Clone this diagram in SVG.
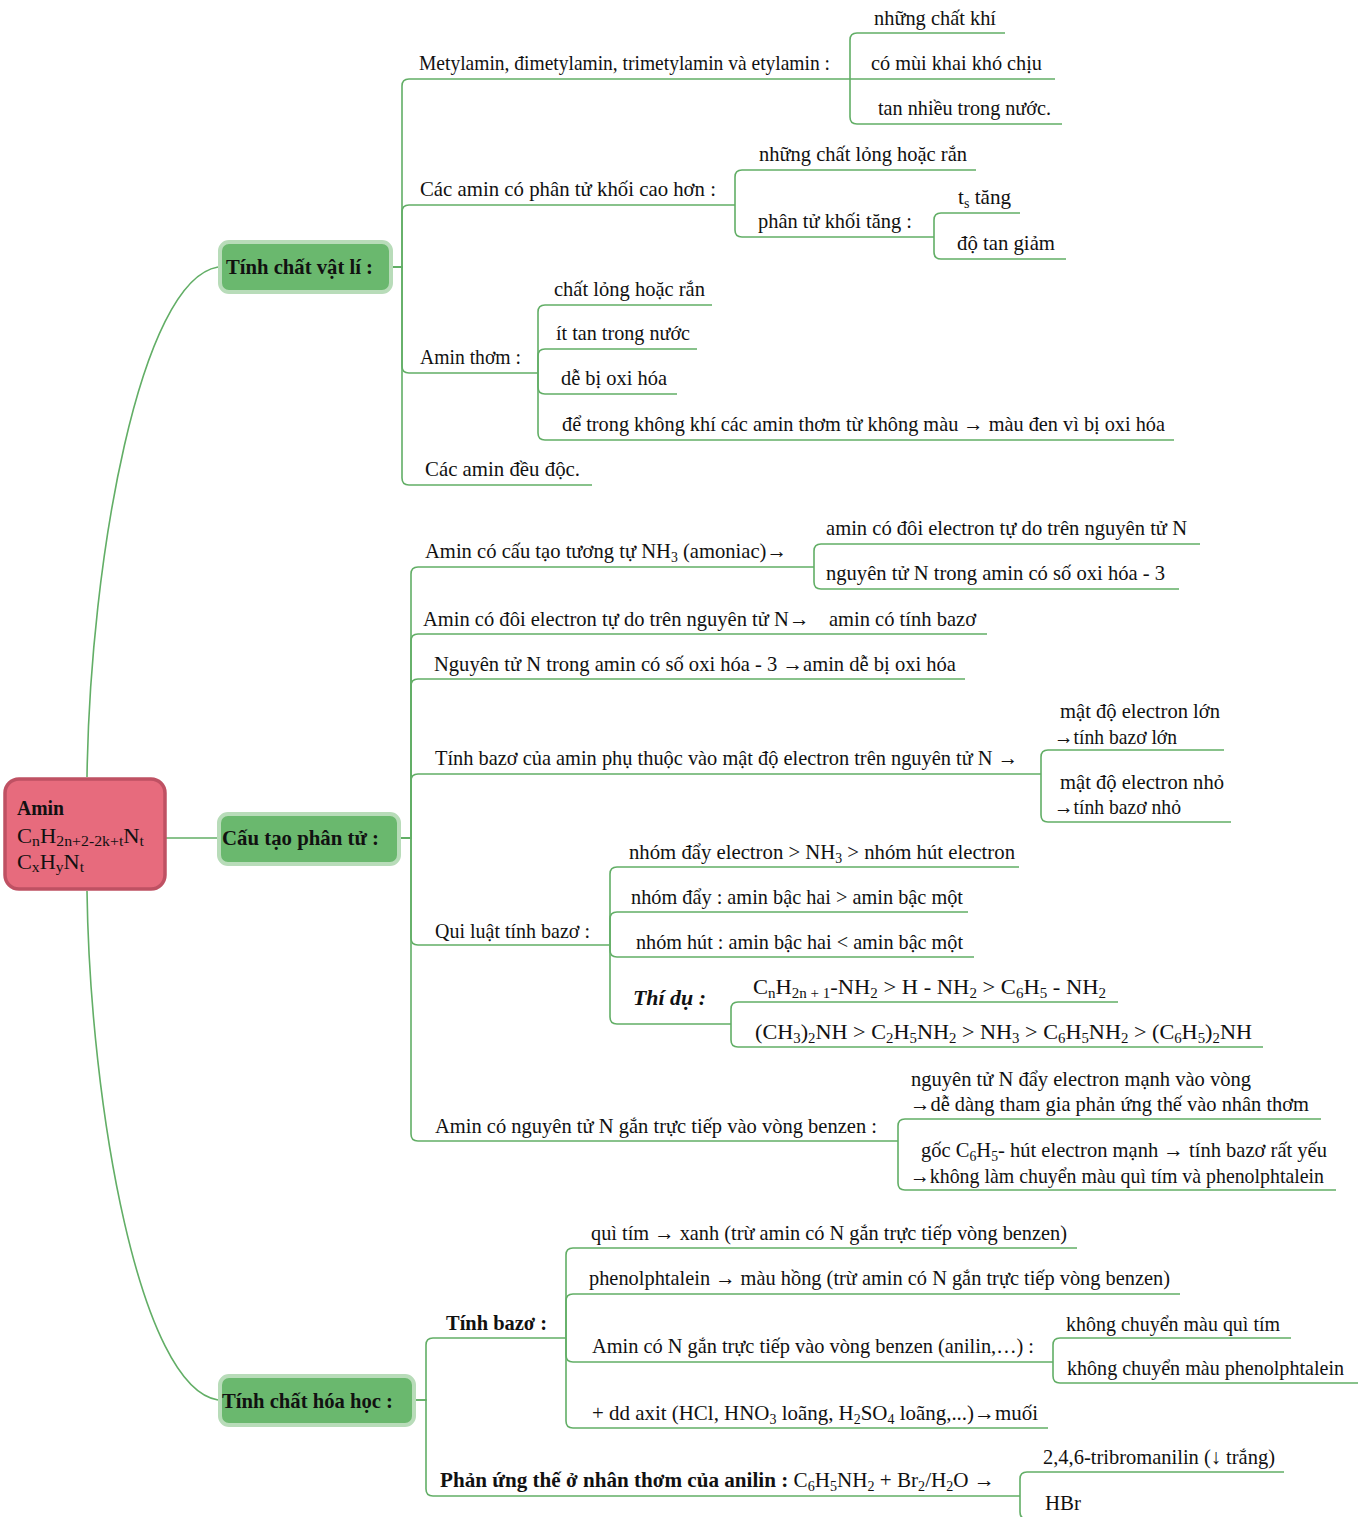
<svg xmlns="http://www.w3.org/2000/svg" width="1363" height="1517" viewBox="0 0 1363 1517">
<style>
text{font-family:"Liberation Serif","Times New Roman",serif;font-size:21px;fill:#111}
.b{font-weight:bold}
.bi{font-weight:bold;font-style:italic}
.sb{font-size:14px}
.rt{font-size:20px}
.rt .sb{font-size:14px}
.c{fill:none;stroke:#62ae66;stroke-width:1.6}
.nb{fill:#6ab86e;stroke:#b8dcb9;stroke-width:4}
.root{fill:#e76b7d;stroke:#bf5163;stroke-width:3.5}
</style>
<rect width="1363" height="1517" fill="#fff"/>
<g id="connectors">
<path class="c" d="M87,777 C90,560 140,280 218,267"/>
<path class="c" d="M166,838 H218"/>
<path class="c" d="M87,891 C90,1108 140,1388 218,1400"/>
<path class="c" d="M393,267 H402 V86 Q402,79 409,79 H850"/>
<path class="c" d="M393,267 H402 V212 Q402,205 409,205 H735"/>
<path class="c" d="M393,267 H402 V366 Q402,373 409,373 H538"/>
<path class="c" d="M393,267 H402 V478 Q402,485 409,485 H592"/>
<path class="c" d="M850,79 V40 Q850,33 857,33 H1005"/>
<path class="c" d="M850,79 H1055"/>
<path class="c" d="M850,79 V117 Q850,124 857,124 H1062"/>
<path class="c" d="M735,205 V177 Q735,170 742,170 H976"/>
<path class="c" d="M735,205 V230 Q735,237 742,237 H934"/>
<path class="c" d="M934,237 V220 Q934,213 941,213 H1020"/>
<path class="c" d="M934,237 V252 Q934,259 941,259 H1066"/>
<path class="c" d="M538,373 V312 Q538,305 545,305 H712"/>
<path class="c" d="M538,373 V356 Q538,349 545,349 H697"/>
<path class="c" d="M538,373 V387 Q538,394 545,394 H677"/>
<path class="c" d="M538,373 V433 Q538,440 545,440 H1174"/>
<path class="c" d="M401,838 H411 V574 Q411,567 418,567 H814"/>
<path class="c" d="M401,838 H411 V641 Q411,634 418,634 H987"/>
<path class="c" d="M401,838 H411 V686 Q411,679 418,679 H965"/>
<path class="c" d="M401,838 H411 V781 Q411,774 418,774 H1041"/>
<path class="c" d="M401,838 H411 V938 Q411,945 418,945 H610"/>
<path class="c" d="M401,838 H411 V1134 Q411,1141 418,1141 H898"/>
<path class="c" d="M814,567 V551 Q814,544 821,544 H1200"/>
<path class="c" d="M814,567 V582 Q814,589 821,589 H1179"/>
<path class="c" d="M1041,774 V757 Q1041,750 1048,750 H1224"/>
<path class="c" d="M1041,774 V815 Q1041,822 1048,822 H1231"/>
<path class="c" d="M610,945 V874 Q610,867 617,867 H1019"/>
<path class="c" d="M610,945 V919 Q610,912 617,912 H968"/>
<path class="c" d="M610,945 V950 Q610,957 617,957 H974"/>
<path class="c" d="M610,945 V1017 Q610,1024 617,1024 H731"/>
<path class="c" d="M731,1024 V1009 Q731,1002 738,1002 H1118"/>
<path class="c" d="M731,1024 V1040 Q731,1047 738,1047 H1263"/>
<path class="c" d="M898,1141 V1126 Q898,1119 905,1119 H1321"/>
<path class="c" d="M898,1141 V1183 Q898,1190 905,1190 H1336"/>
<path class="c" d="M416,1400 H426 V1345 Q426,1338 433,1338 H566"/>
<path class="c" d="M416,1400 H426 V1489 Q426,1496 433,1496 H1020"/>
<path class="c" d="M566,1338 V1255 Q566,1248 573,1248 H1077"/>
<path class="c" d="M566,1338 V1301 Q566,1294 573,1294 H1180"/>
<path class="c" d="M566,1338 V1355 Q566,1362 573,1362 H1053"/>
<path class="c" d="M566,1338 V1421 Q566,1428 573,1428 H1048"/>
<path class="c" d="M1053,1362 V1345 Q1053,1338 1060,1338 H1291"/>
<path class="c" d="M1053,1362 V1376 Q1053,1383 1060,1383 H1358"/>
<path class="c" d="M1020,1496 V1479 Q1020,1472 1027,1472 H1284"/>
<path class="c" d="M1020,1496 V1512 Q1020,1519 1027,1519 H1090"/>
</g>
<g id="root">
<rect class="root" x="5" y="779" width="160" height="110" rx="14"/>
<text class="rt b" x="17" y="815" textLength="47" lengthAdjust="spacingAndGlyphs">Amin</text>
<text class="rt" x="17" y="843" textLength="127" lengthAdjust="spacingAndGlyphs">C<tspan class="sb" dy="3">n</tspan><tspan dy="-3">H</tspan><tspan class="sb" dy="3">2n+2-2k+t</tspan><tspan dy="-3">N</tspan><tspan class="sb" dy="3">t</tspan></text>
<text class="rt" x="17" y="869" textLength="67" lengthAdjust="spacingAndGlyphs">C<tspan class="sb" dy="3">x</tspan><tspan dy="-3">H</tspan><tspan class="sb" dy="3">y</tspan><tspan dy="-3">N</tspan><tspan class="sb" dy="3">t</tspan></text>
</g>
<g id="n-vatli">
<rect class="nb" x="220" y="242" width="171" height="50" rx="9"/>
<text class="b" x="226" y="274" textLength="147" lengthAdjust="spacingAndGlyphs">Tính chất vật lí :</text>
</g>
<g id="n-cautao">
<rect class="nb" x="219" y="814" width="180" height="50" rx="9"/>
<text class="b" x="222" y="845" textLength="157" lengthAdjust="spacingAndGlyphs">Cấu tạo phân tử :</text>
</g>
<g id="n-hoahoc">
<rect class="nb" x="220" y="1376" width="194" height="49" rx="9"/>
<text class="b" x="222" y="1408" textLength="171" lengthAdjust="spacingAndGlyphs">Tính chất hóa học :</text>
</g>
<g id="t1"><text x="419" y="70" textLength="411" lengthAdjust="spacingAndGlyphs">Metylamin, đimetylamin, trimetylamin và etylamin :</text></g>
<g id="t1a"><text x="874" y="25" textLength="122" lengthAdjust="spacingAndGlyphs">những chất khí</text></g>
<g id="t1b"><text x="871" y="70" textLength="171" lengthAdjust="spacingAndGlyphs">có mùi khai khó chịu</text></g>
<g id="t1c"><text x="878" y="115" textLength="173" lengthAdjust="spacingAndGlyphs">tan nhiều trong nước.</text></g>
<g id="t2"><text x="420" y="196" textLength="296" lengthAdjust="spacingAndGlyphs">Các amin có phân tử khối cao hơn :</text></g>
<g id="t2a"><text x="759" y="161" textLength="208" lengthAdjust="spacingAndGlyphs">những chất lỏng hoặc rắn</text></g>
<g id="t2b"><text x="758" y="228" textLength="154" lengthAdjust="spacingAndGlyphs">phân tử khối tăng :</text></g>
<g id="t2b1"><text x="958" y="204" textLength="53" lengthAdjust="spacingAndGlyphs">t<tspan class="sb" dy="4">s</tspan><tspan dy="-4"> tăng</tspan></text></g>
<g id="t2b2"><text x="957" y="250" textLength="98" lengthAdjust="spacingAndGlyphs">độ tan giảm</text></g>
<g id="t3"><text x="420" y="364" textLength="101" lengthAdjust="spacingAndGlyphs">Amin thơm :</text></g>
<g id="t3a"><text x="554" y="296" textLength="151" lengthAdjust="spacingAndGlyphs">chất lỏng hoặc rắn</text></g>
<g id="t3b"><text x="556" y="340" textLength="134" lengthAdjust="spacingAndGlyphs">ít tan trong nước</text></g>
<g id="t3c"><text x="561" y="385" textLength="106" lengthAdjust="spacingAndGlyphs">dễ bị oxi hóa</text></g>
<g id="t3d"><text x="562" y="431" textLength="603" lengthAdjust="spacingAndGlyphs">để trong không khí các amin thơm từ không màu → màu đen vì bị oxi hóa</text></g>
<g id="t4"><text x="425" y="476" textLength="155" lengthAdjust="spacingAndGlyphs">Các amin đều độc.</text></g>
<g id="s1"><text x="425" y="558" textLength="362" lengthAdjust="spacingAndGlyphs">Amin có cấu tạo tương tự NH<tspan class="sb" dy="4">3</tspan><tspan dy="-4"> (amoniac)→</tspan></text></g>
<g id="s1a"><text x="826" y="535" textLength="361" lengthAdjust="spacingAndGlyphs">amin có đôi electron tự do trên nguyên tử N</text></g>
<g id="s1b"><text x="826" y="580" textLength="339" lengthAdjust="spacingAndGlyphs">nguyên tử N trong amin có số oxi hóa - 3</text></g>
<g id="s2"><text x="423" y="626" textLength="553" lengthAdjust="spacingAndGlyphs">Amin có đôi electron tự do trên nguyên tử N→<tspan dx="20">amin có tính bazơ</tspan></text></g>
<g id="s3"><text x="434" y="671" textLength="522" lengthAdjust="spacingAndGlyphs">Nguyên tử N trong amin có số oxi hóa - 3 →amin dễ bị oxi hóa</text></g>
<g id="s4"><text x="435" y="765" textLength="583" lengthAdjust="spacingAndGlyphs">Tính bazơ của amin phụ thuộc vào mật độ electron trên nguyên tử N →</text></g>
<g id="s4a"><text x="1060" y="718" textLength="160" lengthAdjust="spacingAndGlyphs">mật độ electron lớn</text><text x="1054" y="744" textLength="123" lengthAdjust="spacingAndGlyphs">→tính bazơ lớn</text></g>
<g id="s4b"><text x="1060" y="789" textLength="164" lengthAdjust="spacingAndGlyphs">mật độ electron nhỏ</text><text x="1054" y="814" textLength="127" lengthAdjust="spacingAndGlyphs">→tính bazơ nhỏ</text></g>
<g id="s5"><text x="435" y="938" textLength="155" lengthAdjust="spacingAndGlyphs">Qui luật tính bazơ :</text></g>
<g id="s5a"><text x="629" y="859" textLength="386" lengthAdjust="spacingAndGlyphs">nhóm đẩy electron &gt; NH<tspan class="sb" dy="4">3</tspan><tspan dy="-4"> &gt; nhóm hút electron</tspan></text></g>
<g id="s5b"><text x="631" y="904" textLength="332" lengthAdjust="spacingAndGlyphs">nhóm đẩy : amin bậc hai &gt; amin bậc một</text></g>
<g id="s5c"><text x="636" y="949" textLength="327" lengthAdjust="spacingAndGlyphs">nhóm hút : amin bậc hai &lt; amin bậc một</text></g>
<g id="s5d"><text class="bi" x="633" y="1005" textLength="73" lengthAdjust="spacingAndGlyphs">Thí dụ :</text></g>
<g id="s5d1"><text x="753" y="994" textLength="353" lengthAdjust="spacingAndGlyphs">C<tspan class="sb" dy="4">n</tspan><tspan dy="-4">H</tspan><tspan class="sb" dy="4">2n + 1</tspan><tspan dy="-4">-NH</tspan><tspan class="sb" dy="4">2</tspan><tspan dy="-4"> &gt; H - NH</tspan><tspan class="sb" dy="4">2</tspan><tspan dy="-4"> &gt; C</tspan><tspan class="sb" dy="4">6</tspan><tspan dy="-4">H</tspan><tspan class="sb" dy="4">5</tspan><tspan dy="-4"> - NH</tspan><tspan class="sb" dy="4">2</tspan></text></g>
<g id="s5d2"><text x="755" y="1039" textLength="497" lengthAdjust="spacingAndGlyphs">(CH<tspan class="sb" dy="4">3</tspan><tspan dy="-4">)</tspan><tspan class="sb" dy="4">2</tspan><tspan dy="-4">NH &gt; C</tspan><tspan class="sb" dy="4">2</tspan><tspan dy="-4">H</tspan><tspan class="sb" dy="4">5</tspan><tspan dy="-4">NH</tspan><tspan class="sb" dy="4">2</tspan><tspan dy="-4"> &gt; NH</tspan><tspan class="sb" dy="4">3</tspan><tspan dy="-4"> &gt; C</tspan><tspan class="sb" dy="4">6</tspan><tspan dy="-4">H</tspan><tspan class="sb" dy="4">5</tspan><tspan dy="-4">NH</tspan><tspan class="sb" dy="4">2</tspan><tspan dy="-4"> &gt; (C</tspan><tspan class="sb" dy="4">6</tspan><tspan dy="-4">H</tspan><tspan class="sb" dy="4">5</tspan><tspan dy="-4">)</tspan><tspan class="sb" dy="4">2</tspan><tspan dy="-4">NH</tspan></text></g>
<g id="s6"><text x="435" y="1133" textLength="442" lengthAdjust="spacingAndGlyphs">Amin có nguyên tử N gắn trực tiếp vào vòng benzen :</text></g>
<g id="s6a"><text x="911" y="1086" textLength="340" lengthAdjust="spacingAndGlyphs">nguyên tử N đẩy electron mạnh vào vòng</text><text x="910" y="1111" textLength="399" lengthAdjust="spacingAndGlyphs">→dễ dàng tham gia phản ứng thế vào nhân thơm</text></g>
<g id="s6b"><text x="921" y="1157" textLength="406" lengthAdjust="spacingAndGlyphs">gốc C<tspan class="sb" dy="4">6</tspan><tspan dy="-4">H</tspan><tspan class="sb" dy="4">5</tspan><tspan dy="-4">- hút electron mạnh → tính bazơ rất yếu</tspan></text><text x="910" y="1183" textLength="414" lengthAdjust="spacingAndGlyphs">→không làm chuyển màu quì tím và phenolphtalein</text></g>
<g id="c1"><text class="b" x="446" y="1330" textLength="101" lengthAdjust="spacingAndGlyphs">Tính bazơ :</text></g>
<g id="c1a"><text x="591" y="1240" textLength="476" lengthAdjust="spacingAndGlyphs">quì tím → xanh (trừ amin có N gắn trực tiếp vòng benzen)</text></g>
<g id="c1b"><text x="589" y="1285" textLength="581" lengthAdjust="spacingAndGlyphs">phenolphtalein → màu hồng (trừ amin có N gắn trực tiếp vòng benzen)</text></g>
<g id="c1c"><text x="592" y="1353" textLength="442" lengthAdjust="spacingAndGlyphs">Amin có N gắn trực tiếp vào vòng benzen (anilin,…) :</text></g>
<g id="c1c1"><text x="1066" y="1331" textLength="214" lengthAdjust="spacingAndGlyphs">không chuyển màu quì tím</text></g>
<g id="c1c2"><text x="1067" y="1375" textLength="277" lengthAdjust="spacingAndGlyphs">không chuyển màu phenolphtalein</text></g>
<g id="c1d"><text x="592" y="1420" textLength="446" lengthAdjust="spacingAndGlyphs">+ dd axit (HCl, HNO<tspan class="sb" dy="4">3</tspan><tspan dy="-4"> loãng, H</tspan><tspan class="sb" dy="4">2</tspan><tspan dy="-4">SO</tspan><tspan class="sb" dy="4">4</tspan><tspan dy="-4"> loãng,...)→muối</tspan></text></g>
<g id="c2"><text x="440" y="1487" textLength="555" lengthAdjust="spacingAndGlyphs"><tspan class="b">Phản ứng thế ở nhân thơm của anilin :</tspan> C<tspan class="sb" dy="4">6</tspan><tspan dy="-4">H</tspan><tspan class="sb" dy="4">5</tspan><tspan dy="-4">NH</tspan><tspan class="sb" dy="4">2</tspan><tspan dy="-4"> + Br</tspan><tspan class="sb" dy="4">2</tspan><tspan dy="-4">/H</tspan><tspan class="sb" dy="4">2</tspan><tspan dy="-4">O →</tspan></text></g>
<g id="c2a"><text x="1043" y="1464" textLength="232" lengthAdjust="spacingAndGlyphs">2,4,6-tribromanilin (↓ trắng)</text></g>
<g id="c2b"><text x="1045" y="1510" textLength="36" lengthAdjust="spacingAndGlyphs">HBr</text></g>
</svg>
